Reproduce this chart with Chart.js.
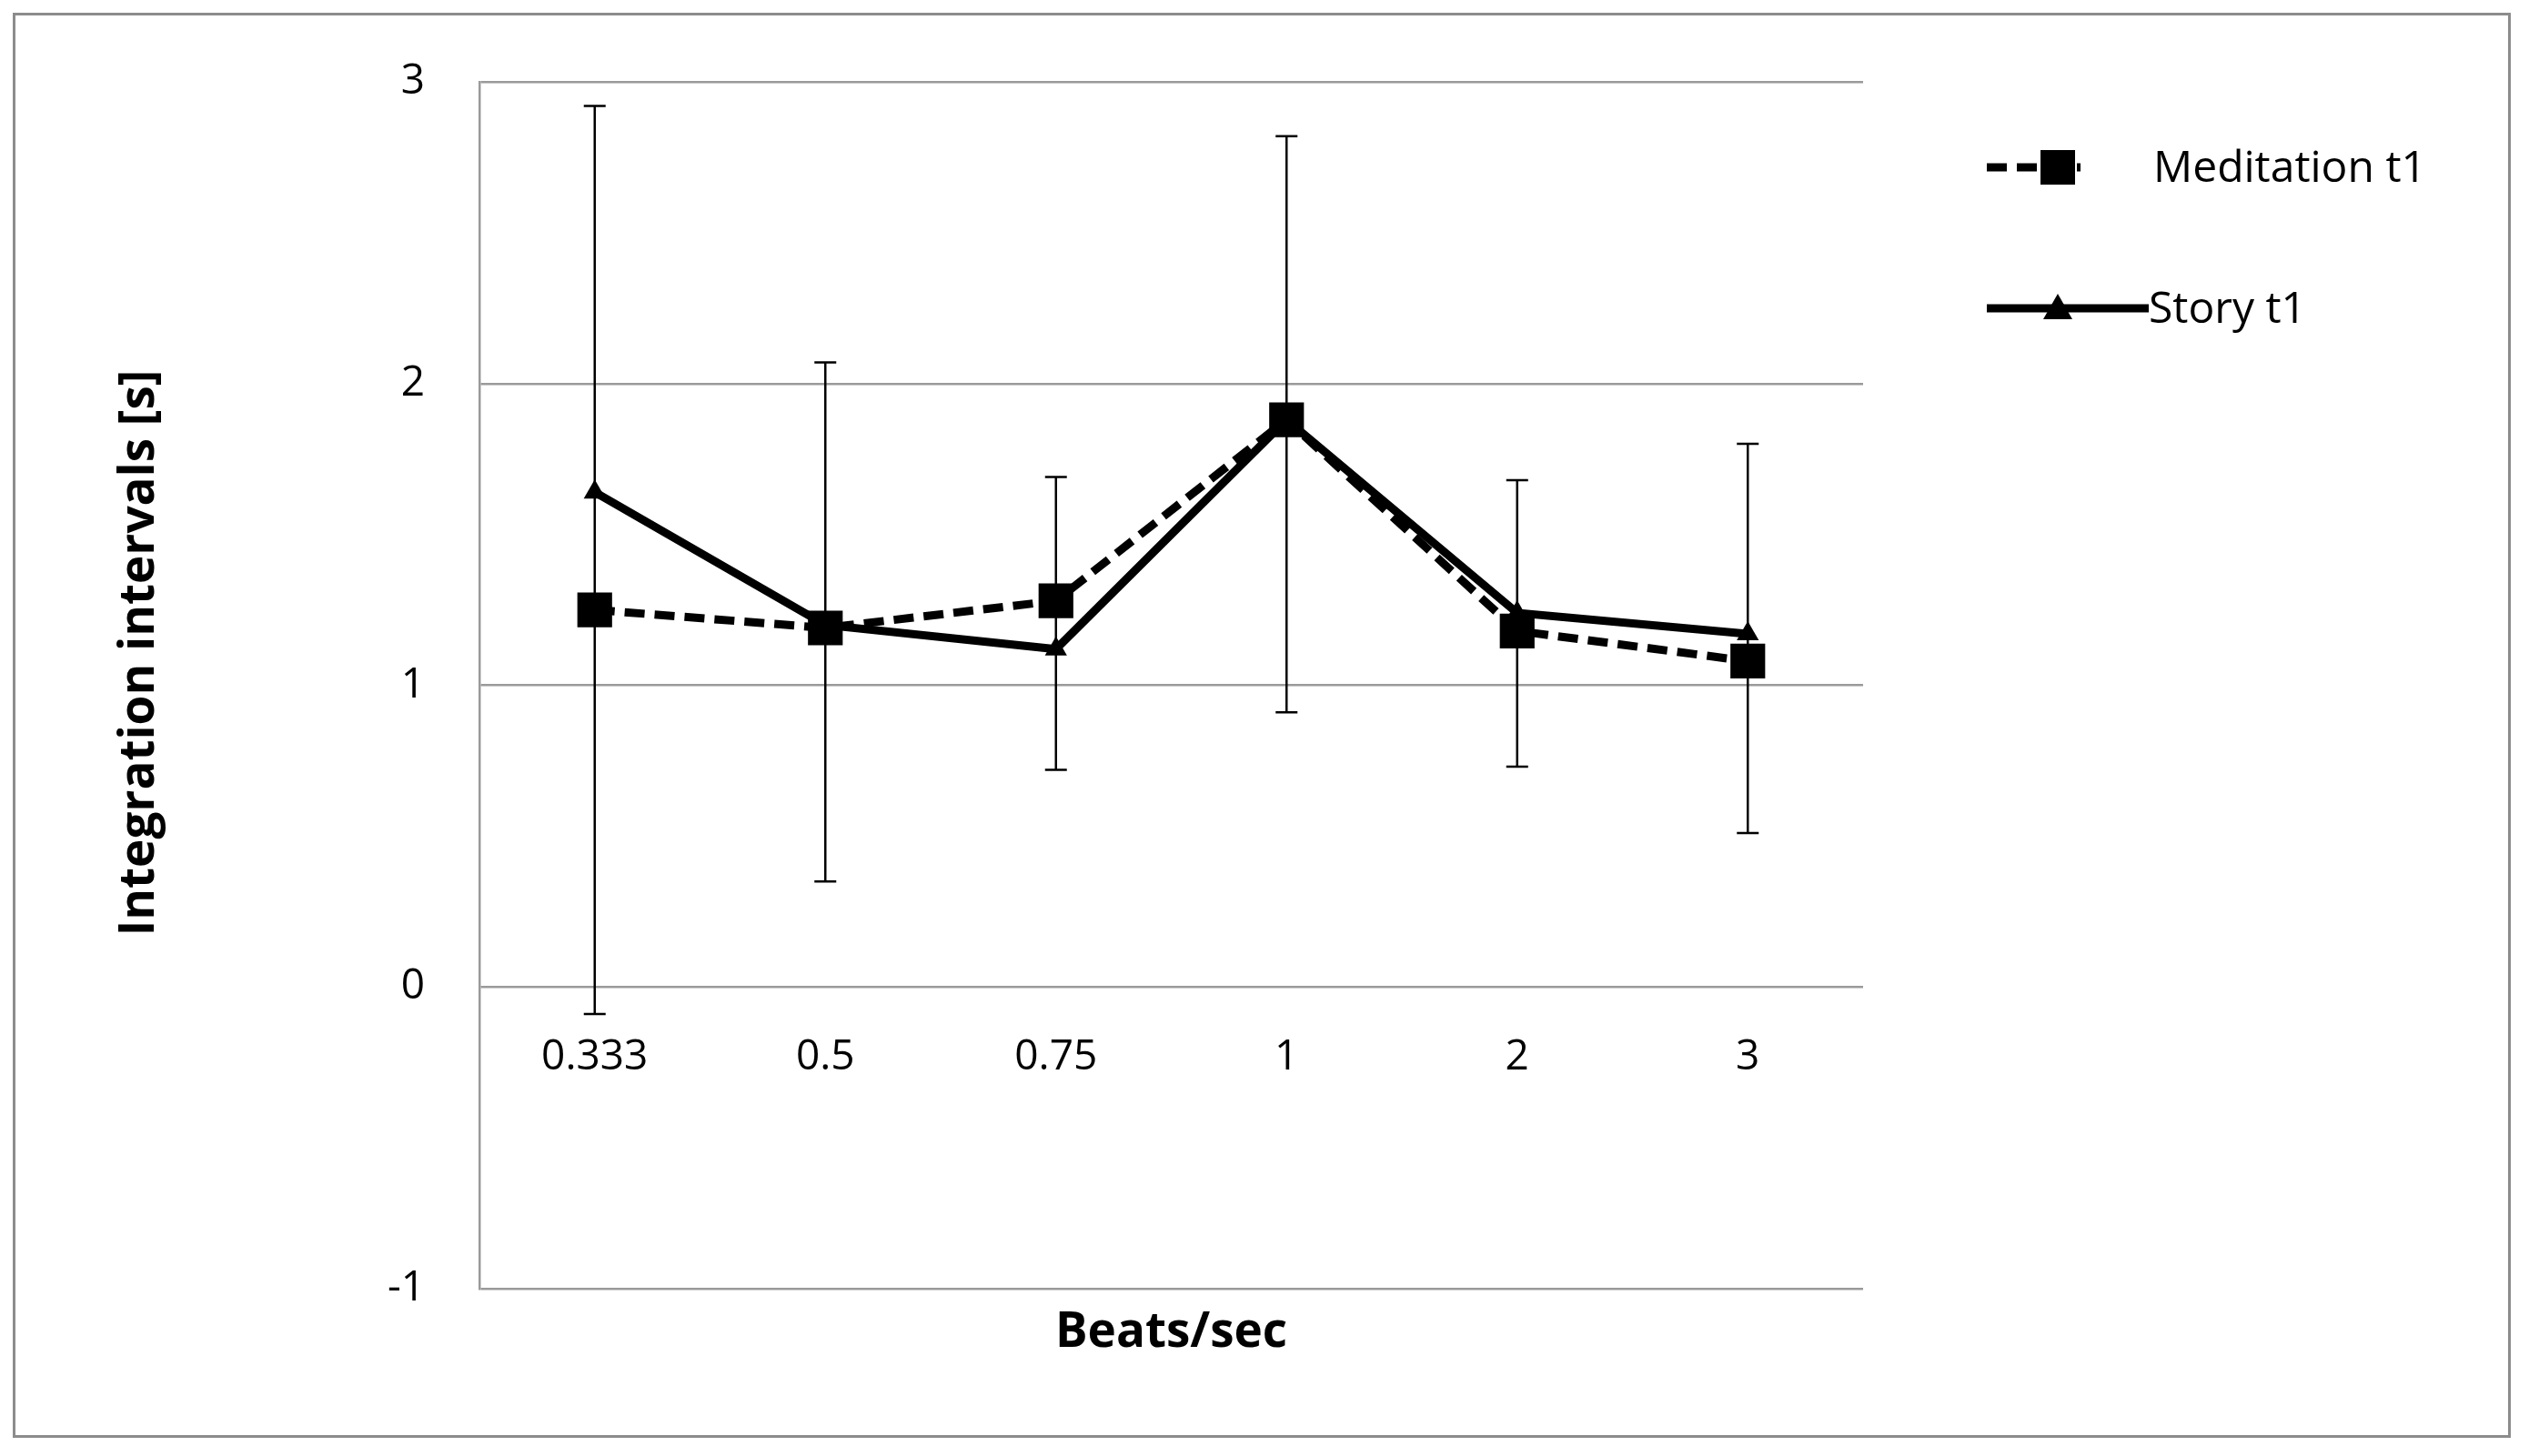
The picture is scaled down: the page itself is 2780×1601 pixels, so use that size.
<!DOCTYPE html>
<html><head><meta charset="utf-8">
<script src="https://cdn.jsdelivr.net/npm/chart.js@4"></script>
<style>
html,body{margin:0;padding:0;background:#fff;}
#wrap{position:relative;width:2780px;height:1601px;}
#frame{position:absolute;left:14px;top:14px;width:2746px;height:1567px;border:3px solid #8c8c8c;box-sizing:border-box;pointer-events:none;}
canvas{position:absolute;left:0;top:0;}
</style></head>
<body><div id="wrap"><canvas id="c" width="2780" height="1601"></canvas><div id="frame"></div></div>
<script>
const categories = ["0.333","0.5","0.75","1","2","3"];
const meditation = [1.25,1.19,1.28,1.88,1.18,1.08];
const story = [1.64,1.20,1.12,1.88,1.24,1.17];
const errHigh = [2.92,2.07,1.69,2.82,1.68,1.80];
const errLow = [-0.09,0.35,0.72,0.91,0.73,0.51];
const yTicks = [-1,0,1,2,3];
const FONT = "'Open Sans', sans-serif";

const extras = {
  id:'extras',
  afterDatasetsDraw(chart){
    const ctx = chart.ctx, x = chart.scales.x, y = chart.scales.y;
    ctx.save();
    ctx.strokeStyle='#000'; ctx.lineWidth=2.5;
    categories.forEach((c,i)=>{
      const px = x.getPixelForValue(i), t = y.getPixelForValue(errHigh[i]), b = y.getPixelForValue(errLow[i]);
      ctx.beginPath();
      ctx.moveTo(px,t); ctx.lineTo(px,b);
      ctx.moveTo(px-12,t); ctx.lineTo(px+12,t);
      ctx.moveTo(px-12,b); ctx.lineTo(px+12,b);
      ctx.stroke();
    });
    ctx.fillStyle='#000';
    ctx.font = "bold 53px "+FONT;
    ctx.textAlign='center'; ctx.textBaseline='middle';
    ctx.fillText("Beats/sec",(chart.chartArea.left+chart.chartArea.right)/2,1466);
    ctx.save(); ctx.translate(154,718); ctx.rotate(-Math.PI/2);
    ctx.fillText("Integration intervals [s]",0,0); ctx.restore();
    // legend
    ctx.font = "48px "+FONT; ctx.textAlign='left';
    ctx.lineWidth=9;
    ctx.setLineDash([22,11]);
    ctx.beginPath(); ctx.moveTo(2184,184); ctx.lineTo(2287,184); ctx.stroke();
    ctx.setLineDash([]);
    ctx.fillRect(2262-19,184-19,38,38);
    ctx.fillText("Meditation t1",2367,186);
    ctx.beginPath(); ctx.moveTo(2184,339); ctx.lineTo(2362,339); ctx.stroke();
    ctx.beginPath(); ctx.moveTo(2262,323); ctx.lineTo(2278,351); ctx.lineTo(2246,351); ctx.closePath(); ctx.fill();
    ctx.fillText("Story t1",2362,341);
    ctx.restore();
  }
};

new Chart(document.getElementById('c'),{
  type:'line',
  data:{labels:categories,datasets:[
    {label:'Meditation t1',data:meditation,borderColor:'#000',backgroundColor:'#000',borderWidth:9,borderDash:[22,11],
     pointStyle:'rect',pointRadius:27,pointBorderWidth:0,tension:0},
    {label:'Story t1',data:story,borderColor:'#000',backgroundColor:'#000',borderWidth:9,
     pointStyle:'triangle',pointRadius:14,pointBorderWidth:0,tension:0}
  ]},
  options:{
    responsive:false,animation:false,devicePixelRatio:1,
    layout:{padding:{left:0,top:90,right:732,bottom:184}},
    plugins:{legend:{display:false},tooltip:{enabled:false}},
    scales:{
      x:{position:{y:0},offset:true,
         grid:{display:false,drawTicks:false},border:{display:false},
         ticks:{color:'#000',font:{size:46,family:FONT},padding:50}},
      y:{min:-1,max:3,
         afterFit(s){s.width=527;},
         afterBuildTicks(s){s.ticks=yTicks.map(v=>({value:v}));},
         grid:{color:'#9a9a9a',lineWidth:2.5,drawTicks:false},
         border:{color:'#9a9a9a',width:2.5},
         ticks:{color:'#000',font:{size:46,family:FONT},padding:60}}
    }
  },
  plugins:[extras]
});
</script></body></html>
